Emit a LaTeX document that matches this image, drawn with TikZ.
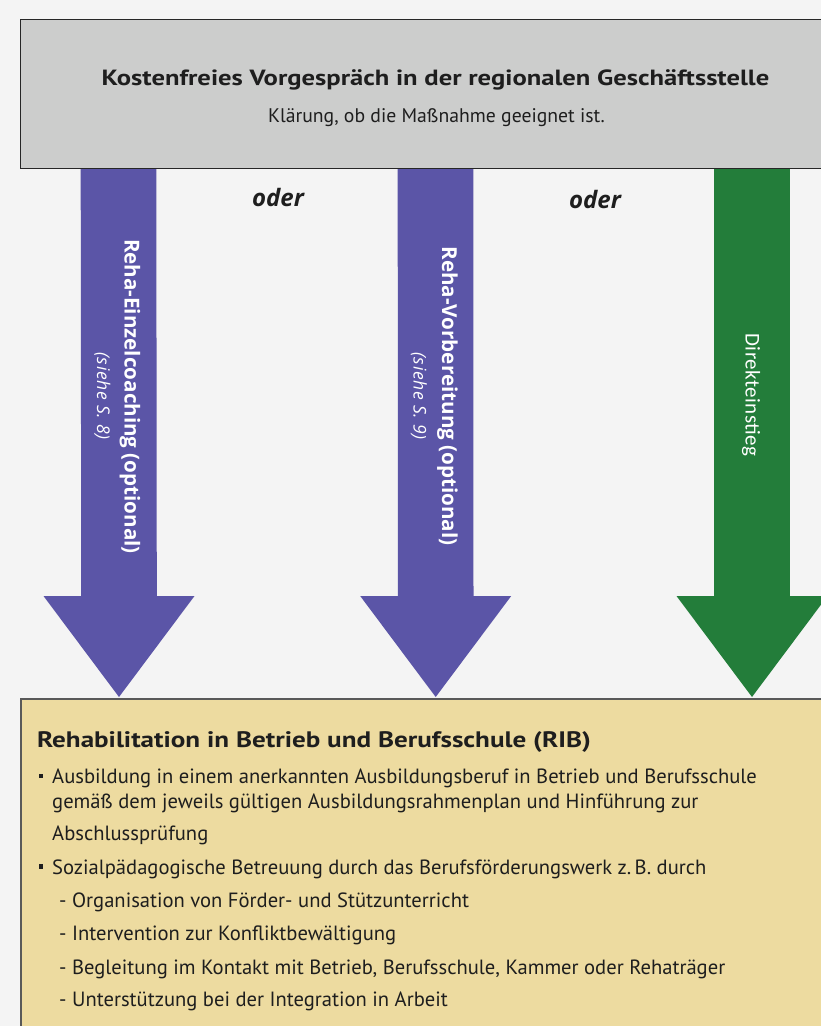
\documentclass[tikz,border=0pt]{standalone}
\usepackage{fontspec}
\setmainfont{PT Sans}[BoldFeatures={FakeStretch=1.21}]
\newfontfamily\arrowfont{Open Sans}
\newfontfamily\sieheFont{Open Sans}[LetterSpace=4]
\newfontfamily\direktfont{Carlito}[LetterSpace=2]
\usetikzlibrary{calc}
\definecolor{bgc}{RGB}{244,244,244}
\definecolor{grayfill}{RGB}{204,205,204}
\definecolor{tanfill}{RGB}{237,219,160}
\definecolor{reha}{RGB}{91,85,167}
\definecolor{direkt}{RGB}{35,125,58}
\definecolor{txt}{RGB}{30,30,30}
\newcommand\blockarrow[3]{%
  \fill[#1] ($(#2)+(-37.8,0)$) -- ++(75.6,0) -- ($(#3)+(37.8,-101)$) -- ++(37.7,0)
    -- (#3) -- ++(-75.5,-101) -- ++(37.7,0) -- cycle;}
\tikzset{
  boxtext/.style={anchor=base west, inner sep=0pt, text=txt, font=\fontsize{20.6}{24}\selectfont},
  boldtitle/.style={boxtext, font=\bfseries\fontsize{22}{26}\selectfont},
  bulletsq/.style={fill=txt, inner sep=0pt, minimum width=4pt, minimum height=4.6pt},
  arrowbold/.style={rotate=-90, inner sep=0pt, text=white, font=\arrowfont\bfseries\fontsize{20.6}{24}\selectfont},
  arrowital/.style={rotate=-90, inner sep=0pt, text=white, font=\sieheFont\itshape\fontsize{17.5}{20}\selectfont},
  odertext/.style={inner sep=0pt, text=txt, font=\arrowfont\bfseries\itshape\fontsize{24}{28}\selectfont},
}
\begin{document}
\begin{tikzpicture}[x=1pt,y=-1pt]
\useasboundingbox (0,0) rectangle (821,1026);
\clip (0,0) rectangle (821,1026);
\fill[bgc] (0,0) rectangle (821,1026);

% arrow anchor coordinates
\coordinate (a1s) at (118.5,168);
\coordinate (a1t) at (119,697);
\coordinate (a2s) at (435.5,168);
\coordinate (a2t) at (435.7,697);
\coordinate (a3s) at (752,168);
\coordinate (a3t) at (752,697);

\blockarrow{reha}{a1s}{a1t}
\blockarrow{reha}{a2s}{a2t}
\blockarrow{direkt}{a3s}{a3t}

% top box
\node[draw=black!85, line width=1.3pt, fill=grayfill, anchor=north west,
      minimum width=840pt, minimum height=149pt, inner sep=0pt] (top) at (20,19) {};
\node[boldtitle, anchor=base] (toptitle) at (435.5,85)
  {Kostenfreies Vorgespräch in der regionalen Geschäftsstelle};
\node[boxtext, anchor=base, font=\fontsize{19.7}{23}\selectfont] (topsub) at (436.5,122.3)
  {Klärung, ob die Maßnahme geeignet ist.};

% bottom box
\node[draw=black!65, line width=1.5pt, fill=tanfill, anchor=north west,
      minimum width=840pt, minimum height=360pt, inner sep=0pt] (rib) at (20,698) {};

% arrow labels
\node[arrowbold] (l1) at (130,396.5) {Reha-Einzelcoaching (optional)};
\node[arrowital] (l1s) at (102.5,396) {(siehe S. 8)};
\node[arrowbold] (l2) at (447.5,396) {Reha-Vorbereitung (optional)};
\node[arrowital] (l2s) at (419,396) {(siehe S. 9)};
\node[rotate=-90, inner sep=0pt, text=white, font=\direktfont\fontsize{21}{24}\selectfont] (l3) at (751,395) {Direkteinstieg};

\node[odertext] (oder1) at (278,197) {oder};
\node[odertext] (oder2) at (595,199) {oder};

% bottom box content
\node[boldtitle, font=\bfseries\fontsize{22.4}{26}\selectfont] (ribtitle) at (37,747.3)
  {Rehabilitation in Betrieb und Berufsschule (RIB)};
\node[bulletsq] (b1) at (41,776) {};
\node[boxtext] (i1a) at (52,783.3) {Ausbildung in einem anerkannten Ausbildungsberuf in Betrieb und Berufsschule};
\node[boxtext] (i1b) at (52,808.3) {gemäß dem jeweils gültigen Ausbildungsrahmenplan und Hinführung zur};
\node[boxtext] (i1c) at (52,840.5) {Abschlussprüfung};
\node[bulletsq] (b2) at (41,866.5) {};
\node[boxtext] (i2) at (52,874.5) {Sozialpädagogische Betreuung durch das Berufsförderungswerk z.\,B. durch};
\node[boxtext] (s1) at (59,907) {- Organisation von Förder- und Stützunterricht};
\node[boxtext] (s2) at (59,940.5) {- Intervention zur Konfliktbewältigung};
\node[boxtext] (s3) at (59,974) {- Begleitung im Kontakt mit Betrieb, Berufsschule, Kammer oder Rehaträger};
\node[boxtext] (s4) at (59,1006.5) {- Unterstützung bei der Integration in Arbeit};
\end{tikzpicture}
\end{document}
